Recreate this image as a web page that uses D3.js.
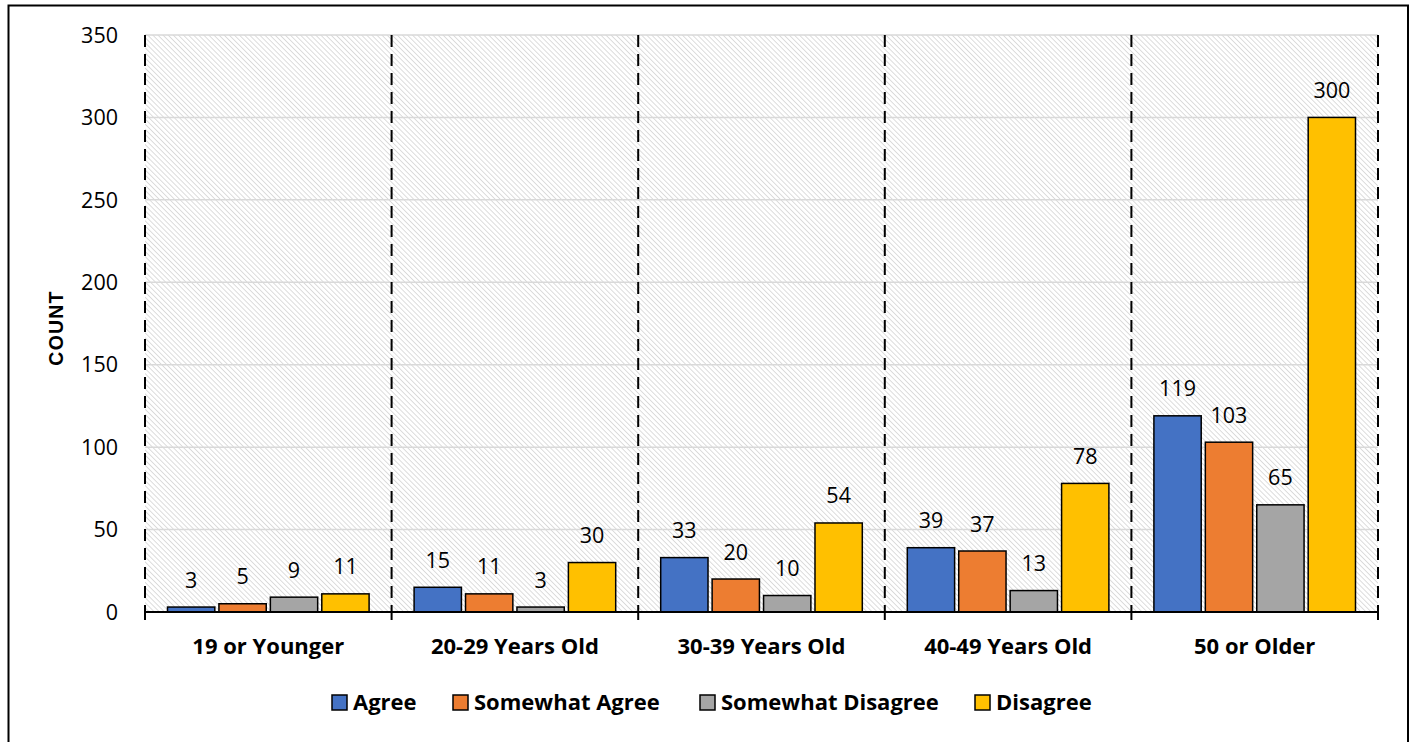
<!DOCTYPE html>
<html>
<head>
<meta charset="utf-8">
<script src="https://cdn.jsdelivr.net/npm/d3@7/dist/d3.min.js"></script>
<style>
  body { margin: 0; background: #fff; }
  svg { display: block; }
</style>
</head>
<body>
<svg id="chart" width="1416" height="742"></svg>
<script>
const categories = ["19 or Younger", "20-29 Years Old", "30-39 Years Old", "40-49 Years Old", "50 or Older"];
const seriesNames = ["Agree", "Somewhat Agree", "Somewhat Disagree", "Disagree"];
const agree = [3, 15, 33, 39, 119];
const somewhatAgree = [5, 11, 20, 37, 103];
const somewhatDisagree = [9, 3, 10, 13, 65];
const disagree = [11, 30, 54, 78, 300];
const yTicks = [0, 50, 100, 150, 200, 250, 300, 350];
const colors = ["#4472C4", "#ED7D31", "#A5A5A5", "#FFC000"];

const seriesValues = [agree, somewhatAgree, somewhatDisagree, disagree];

const svg = d3.select("#chart");
const numFont = "'Open Sans', 'Noto Sans', sans-serif";

// outer border
svg.append("rect")
  .attr("x", 8.5).attr("y", 5.5).attr("width", 1399.5).attr("height", 760)
  .attr("fill", "#fff").attr("stroke", "#000").attr("stroke-width", 2);

const pLeft = 145, pRight = 1378, pTop = 35, pBottom = 612;

const defs = svg.append("defs");
const pat = defs.append("pattern")
  .attr("id", "hatch").attr("patternUnits", "userSpaceOnUse")
  .attr("width", 3.6).attr("height", 3.6)
  .attr("patternTransform", "rotate(-45)");
pat.append("line").attr("x1", 0).attr("y1", 0).attr("x2", 0).attr("y2", 3.6)
  .attr("stroke", "#d4d4d4").attr("stroke-width", 1.6);

const x0 = d3.scaleBand().domain(categories).range([pLeft, pRight]).padding(0);
const x1 = d3.scaleBand().domain(seriesNames)
  .range([22.5, x0.bandwidth() - 22.5]).paddingInner(0.08).paddingOuter(0);
const y = d3.scaleLinear().domain([0, 350]).range([pBottom, pTop]);

// plot background hatch
svg.append("rect").attr("x", pLeft).attr("y", pTop)
  .attr("width", pRight - pLeft).attr("height", pBottom - pTop)
  .attr("fill", "url(#hatch)");

// horizontal gridlines
svg.append("g").selectAll("line").data(yTicks.filter(d => d > 0)).join("line")
  .attr("x1", pLeft).attr("x2", pRight)
  .attr("y1", d => y(d)).attr("y2", d => y(d))
  .attr("stroke", "#d9d9d9").attr("stroke-width", 1.5);

// vertical dashed separators
const bounds = categories.map(c => x0(c)).concat([x0(categories[categories.length - 1]) + x0.bandwidth()]);
svg.append("g").selectAll("line").data(bounds).join("line")
  .attr("x1", d => d).attr("x2", d => d)
  .attr("y1", pTop).attr("y2", pBottom)
  .attr("stroke", "#000").attr("stroke-width", 2).attr("stroke-dasharray", "12,7");

// bars
const groups = svg.append("g").selectAll("g").data(categories).join("g")
  .attr("transform", c => `translate(${x0(c)},0)`);
groups.selectAll("rect")
  .data((c, ci) => seriesNames.map((s, si) => ({ s, si, v: seriesValues[si][ci] })))
  .join("rect")
  .attr("x", d => x1(d.s))
  .attr("y", d => y(d.v))
  .attr("width", x1.bandwidth())
  .attr("height", d => y(0) - y(d.v))
  .attr("fill", d => colors[d.si])
  .attr("stroke", "#000").attr("stroke-width", 1.5);
groups.selectAll("text")
  .data((c, ci) => seriesNames.map((s, si) => ({ s, si, v: seriesValues[si][ci] })))
  .join("text")
  .attr("x", d => x1(d.s) + x1.bandwidth() / 2)
  .attr("y", d => y(d.v) - 19.5)
  .attr("text-anchor", "middle")
  .attr("font-family", numFont).attr("font-size", 21.5).attr("fill", "#000")
  .text(d => d.v);

// x axis
const xAxis = svg.append("g");
xAxis.append("line").attr("x1", pLeft).attr("x2", pRight)
  .attr("y1", pBottom).attr("y2", pBottom).attr("stroke", "#000").attr("stroke-width", 2);
xAxis.selectAll("line.tick").data(bounds).join("line").attr("class", "tick")
  .attr("x1", d => d).attr("x2", d => d).attr("y1", pBottom).attr("y2", pBottom + 8)
  .attr("stroke", "#000").attr("stroke-width", 2);
xAxis.selectAll("text").data(categories).join("text")
  .attr("x", c => x0(c) + x0.bandwidth() / 2).attr("y", 654)
  .attr("text-anchor", "middle")
  .attr("font-family", numFont).attr("font-weight", "bold").attr("font-size", 22)
  .text(c => c);

// y axis labels
svg.append("g").selectAll("text").data(yTicks).join("text")
  .attr("x", 118).attr("y", d => y(d))
  .attr("dy", "0.36em")
  .attr("text-anchor", "end")
  .attr("font-family", numFont).attr("font-size", 21.5)
  .text(d => d);

svg.append("text")
  .attr("transform", "translate(63,328) rotate(-90)")
  .attr("text-anchor", "middle")
  .attr("font-family", "'Liberation Sans', Arial, sans-serif")
  .attr("font-weight", "bold").attr("font-size", 19.5)
  .attr("letter-spacing", 1.2)
  .text("COUNT");

// legend
const legendX = [332, 453, 700, 975];
const legend = svg.append("g").selectAll("g").data(seriesNames).join("g")
  .attr("transform", (d, i) => `translate(${legendX[i]},695)`);
legend.append("rect").attr("width", 15).attr("height", 15)
  .attr("fill", (d, i) => colors[i]).attr("stroke", "#000").attr("stroke-width", 1.5);
legend.append("text").attr("x", 21).attr("y", 15)
  .attr("font-family", numFont).attr("font-weight", "bold").attr("font-size", 22)
  .text(d => d);
</script>
</body>
</html>
